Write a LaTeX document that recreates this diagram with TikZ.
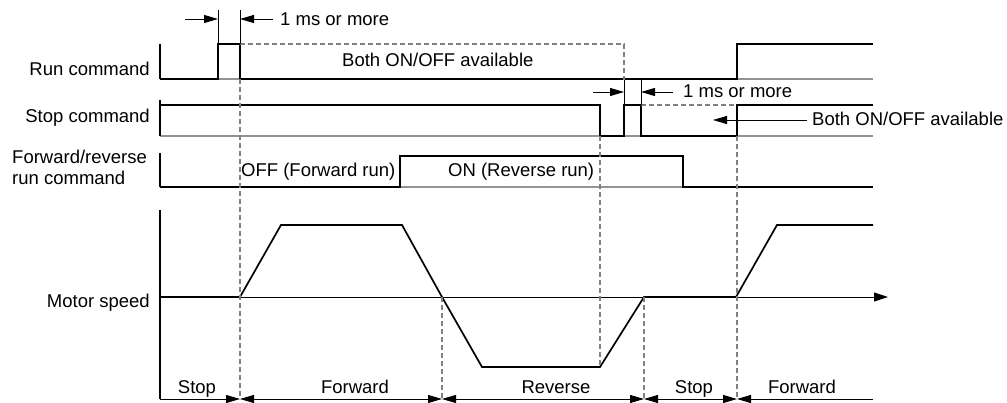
\documentclass[tikz,border=0pt]{standalone}
\usepackage{fontspec}
\setmainfont{Liberation Sans}
\usetikzlibrary{arrows.meta}
\begin{document}
\begin{tikzpicture}[x=1pt,y=-1pt,
  sig/.style={line width=1.7pt, line join=miter, black},
  baseln/.style={line width=1.2pt, gray!85},
  guide/.style={line width=1.1pt, gray, dash pattern=on 5pt off 3pt},
  axisln/.style={line width=1.1pt, black},
  dimln/.style={line width=0.9pt, black},
  tipr/.style={-{Triangle[length=14pt,width=8pt]}},
  tipb/.style={{Triangle[length=14pt,width=8pt]}-{Triangle[length=14pt,width=8pt]}},
  tipl/.style={{Triangle[length=14pt,width=8pt]}-},
  lbl/.style={font=\fontsize{18.5}{21}\selectfont, inner sep=0pt},
]
\useasboundingbox (0,0) rectangle (1007,403);

% ---------- Run command ----------
\draw[baseln] (160,79) -- (873,79);
\draw[axisln] (160,44) -- (160,79);
\draw[sig] (160,79) -- (218,79) -- (218,44) -- (240,44) -- (240,79) -- (737,79) -- (737,44) -- (873,44);
\draw[guide] (240,44) -- (624,44) -- (624,80);
\draw[dimln] (218,10) -- (218,44);
\draw[dimln] (240,10) -- (240,44);
\coordinate (d1a) at (185,19);
\coordinate (d1b) at (218,19);
\coordinate (d1c) at (240,19);
\coordinate (d1d) at (273,19);
\draw[dimln,tipr] (d1a) -- (d1b);
\draw[dimln,tipr] (d1d) -- (d1c);
\node[lbl,anchor=base west] (ms1) at (280,26) {1 ms or more};
\node[lbl,anchor=base west] (both1) at (342,67) {Both ON/OFF available};
\node[lbl,anchor=base east] (runl) at (150,76) {Run command};

% ---------- Stop command ----------
\draw[baseln] (160,136) -- (873,136);
\draw[axisln] (160,100) -- (160,136);
\draw[sig] (160,105) -- (600,105) -- (600,136) -- (624,136) -- (624,105) -- (641,105) -- (641,136) -- (737,136) -- (737,105) -- (873,105);
\draw[guide] (641,105) -- (737,105);
\draw[dimln] (624,80) -- (624,105);
\draw[dimln] (641,80) -- (641,105);
\coordinate (d2a) at (593,92);
\coordinate (d2b) at (624,92);
\coordinate (d2c) at (641,92);
\coordinate (d2d) at (673,92);
\draw[dimln,tipr] (d2a) -- (d2b);
\draw[dimln,tipr] (d2d) -- (d2c);
\node[lbl,anchor=base west] (ms2) at (683,98) {1 ms or more};
\node[lbl,anchor=base west] (both2) at (812,126) {Both ON/OFF available};
\coordinate (b2tip) at (713,120);
\coordinate (b2tail) at (807,120);
\draw[dimln,tipr] (b2tail) -- (b2tip);
\node[lbl,anchor=base east] (stopl) at (150,123) {Stop command};

% ---------- Forward/reverse ----------
\draw[baseln] (160,187) -- (873,187);
\draw[axisln] (160,153) -- (160,187);
\draw[sig] (160,187) -- (400,187) -- (400,156) -- (683,156) -- (683,187) -- (873,187);
\node[lbl,anchor=base west] (offl) at (241,177) {OFF (Forward run)};
\node[lbl,anchor=base west] (onl) at (448,177) {ON (Reverse run)};
\node[lbl,anchor=base west] (fr1) at (12,164) {Forward/reverse};
\node[lbl,anchor=base west] (fr2) at (12,185) {run command};

% ---------- Motor speed ----------
\draw[axisln] (160,210) -- (160,399);
\draw[dimln,-{Triangle[length=14pt,width=9pt]}] (160,297) -- (888,297);
\draw[sig] (160,297) -- (240,297) -- (281,225) -- (402,225) -- (442,297) -- (482,367) -- (600,367) -- (644,297) -- (736,297) -- (777,225) -- (873,225);
\node[lbl,anchor=base east] (motl) at (150,308) {Motor speed};

% ---------- Guides ----------
\draw[guide] (240,79) -- (240,399);
\draw[guide] (442,297) -- (442,399);
\draw[guide] (600,136) -- (600,367);
\draw[guide] (644,297) -- (644,399);
\draw[guide] (737,136) -- (737,399);

% ---------- Bottom phases ----------
\coordinate (p0) at (160,399);
\coordinate (p1) at (240,399);
\coordinate (p2) at (442,399);
\coordinate (p3) at (644,399);
\coordinate (p4) at (737,399);
\coordinate (p5) at (873,399);
\draw[dimln,tipr] (p0) -- (p1);
\draw[dimln,tipb] (p1) -- (p2);
\draw[dimln,tipb] (p2) -- (p3);
\draw[dimln,tipb] (p3) -- (p4);
\draw[dimln,tipl] (p4) -- (p5);
\node[lbl,anchor=base] (s1) at (197,393) {Stop};
\node[lbl,anchor=base] (f1) at (355,393) {Forward};
\node[lbl,anchor=base] (r1) at (556,393) {Reverse};
\node[lbl,anchor=base] (s2) at (694,393) {Stop};
\node[lbl,anchor=base] (f2) at (802,393) {Forward};
\end{tikzpicture}
\end{document}
